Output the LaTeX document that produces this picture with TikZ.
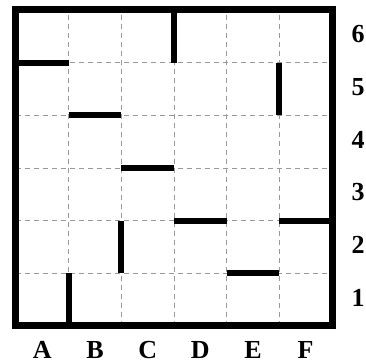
\documentclass[tikz,border=0pt]{standalone}
\usepackage{fontspec}
\setmainfont{Liberation Serif}
\begin{document}
\begin{tikzpicture}[x=52.667pt,y=52.667pt,
  gridline/.style={draw=black!40,line width=0.7pt,dash pattern=on 5pt off 4pt},
  wall/.style={line width=6pt,line cap=butt},
  border/.style={line width=7pt,line join=miter},
  lab/.style={font=\fontsize{26}{28}\selectfont\bfseries,inner sep=0pt}]
\useasboundingbox (-16pt,-37pt) rectangle (350pt,326pt);
% dashed grid
\foreach \i in {1,...,5} {
  \draw[gridline] (\i,0) -- (\i,6);
  \draw[gridline] (0,\i) -- (6,\i);
}
% walls
\draw[wall] (3,5) -- (3,6);
\draw[wall] (0,5) -- (1,5);
\draw[wall] (1,4) -- (2,4);
\draw[wall] (2,3) -- (3,3);
\draw[wall] (5,4) -- (5,5);
\draw[wall] (2,1) -- (2,2);
\draw[wall] (1,0) -- (1,1);
\draw[wall] (3,2) -- (4,2);
\draw[wall] (5,2) -- (6,2);
\draw[wall] (4,1) -- (5,1);
% border
\draw[border] (0,0) rectangle (6,6);
% column labels
\foreach \c [count=\k] in {A,B,C,D,E,F} {
  \node[lab] (col\c) at (\k-0.5,-24pt) {\c};
}
% row labels
\foreach \r in {1,...,6} {
  \node[lab] (row\r) at ([xshift=26pt]6,\r-0.5) [yshift=2pt] {\r};
}
\end{tikzpicture}
\end{document}
